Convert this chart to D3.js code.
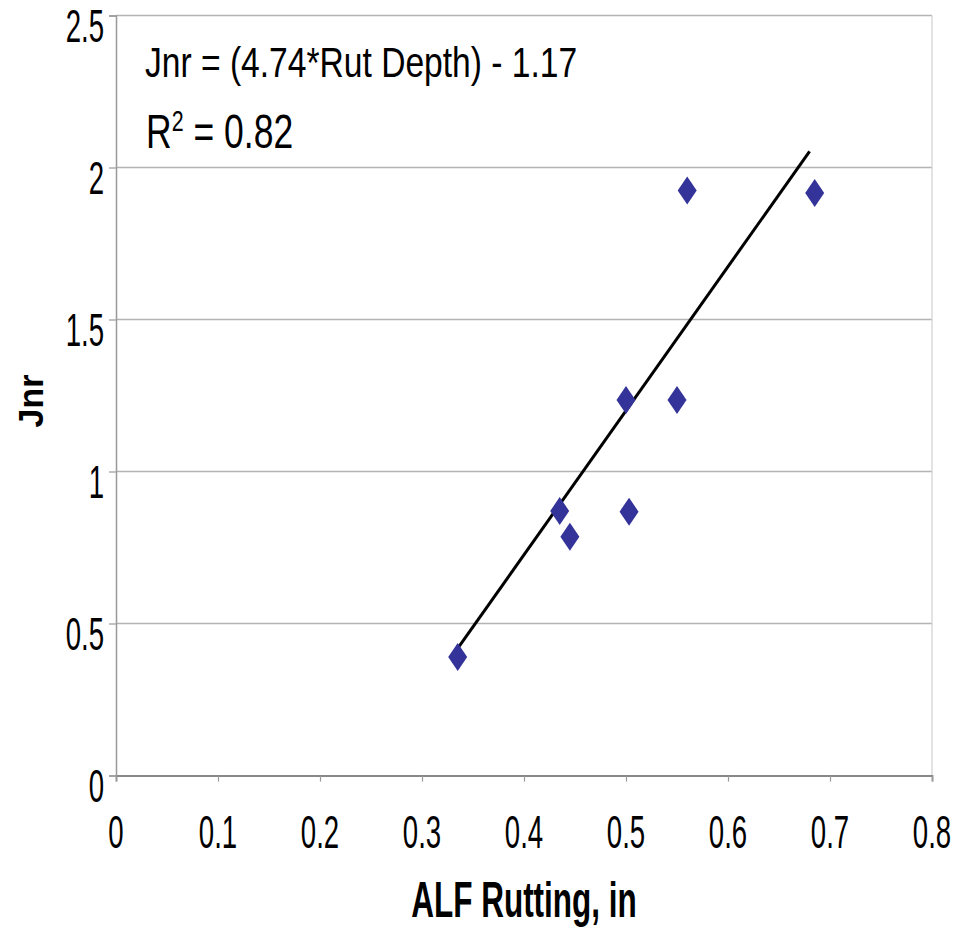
<!DOCTYPE html>
<html>
<head>
<meta charset="utf-8">
<script src="https://cdn.jsdelivr.net/npm/d3@7"></script>
<style>
  html, body { margin: 0; padding: 0; background: #fff; }
  text { font-family: 'Liberation Sans', Arial, sans-serif; fill: #000; }
</style>
</head>
<body>
<svg id="chart" width="965" height="929"></svg>
<script>
// ALF rutting (in) vs Jnr
const rutDepth = [0.335, 0.435, 0.445, 0.500, 0.503, 0.550, 0.560, 0.685]
const jnr = [0.39, 0.87, 0.785, 1.235, 0.868, 1.235, 1.924, 1.916]

const xTicks = [0, 0.1, 0.2, 0.3, 0.4, 0.5, 0.6, 0.7, 0.8]
const yTicks = [0, 0.5, 1, 1.5, 2, 2.5]

// trend line: Jnr = 4.74 * rut - 1.17
const slope = 4.74
const intercept = -1.17
const trendRange = [0.335, 0.68]

const svg = d3.select('#chart')

const margin = { top: 15.5, right: 33, bottom: 153.5, left: 116 }
const width = 965 - margin.left - margin.right
const height = 929 - margin.top - margin.bottom

const x = d3.scaleLinear().domain([0, 0.8]).range([0, width])
const y = d3.scaleLinear().domain([0, 2.5]).range([height, 0])

const g = svg.append('g').attr('transform', `translate(${margin.left},${margin.top})`)

// gridlines
g.append('g')
  .selectAll('line')
  .data(yTicks.filter(d => d > 0))
  .join('line')
  .attr('x1', 0)
  .attr('x2', width)
  .attr('y1', d => y(d))
  .attr('y2', d => y(d))
  .attr('stroke', '#b4b4b4')
  .attr('stroke-width', 1.5)

// right border of the plot area
g.append('line')
  .attr('x1', width).attr('x2', width)
  .attr('y1', 0).attr('y2', height)
  .attr('stroke', '#d0d0d0')
  .attr('stroke-width', 1.2)

// axes
const xAxis = g.append('g')
  .attr('transform', `translate(0,${height})`)
  .call(d3.axisBottom(x).tickValues(xTicks).tickSize(6).tickFormat(''))
xAxis.select('.domain').attr('stroke', '#888').attr('stroke-width', 1.8)
xAxis.selectAll('.tick line').attr('stroke', '#999').attr('stroke-width', 1.2)

const yAxis = g.append('g')
  .call(d3.axisLeft(y).tickValues(yTicks).tickSize(7).tickFormat(''))
yAxis.select('.domain').attr('stroke', '#999').attr('stroke-width', 1.5)
yAxis.selectAll('.tick line').attr('stroke', '#999').attr('stroke-width', 1.2)

// condensed tick labels (the source is squeezed horizontally)
g.append('g')
  .selectAll('text')
  .data(xTicks)
  .join('text')
  .attr('transform', d => `translate(${x(d)},${height + 72}) scale(0.6,1)`)
  .attr('text-anchor', 'middle')
  .attr('font-size', 46)
  .text(d => d3.format('')(d))

g.append('g')
  .selectAll('text')
  .data(yTicks)
  .join('text')
  .attr('transform', d => `translate(-12,${y(d) + 26}) scale(0.6,1)`)
  .attr('text-anchor', 'end')
  .attr('font-size', 46)
  .text(d => d3.format('')(d))

// axis titles
svg.append('text')
  .attr('transform', `translate(${margin.left + width / 2},917) scale(0.63,1)`)
  .attr('text-anchor', 'middle')
  .attr('font-size', 50)
  .attr('font-weight', 'bold')
  .text('ALF Rutting, in')

svg.append('text')
  .attr('transform', 'translate(43,401) rotate(-90) scale(0.97,1)')
  .attr('text-anchor', 'middle')
  .attr('font-size', 35)
  .attr('font-weight', 'bold')
  .text('Jnr')

// trend line
g.append('line')
  .attr('x1', x(trendRange[0]))
  .attr('y1', y(slope * trendRange[0] + intercept))
  .attr('x2', x(trendRange[1]))
  .attr('y2', y(slope * trendRange[1] + intercept))
  .attr('stroke', '#000')
  .attr('stroke-width', 3)

// diamond markers, taller than wide like in the source
const diamond = 'M0,-14L9.5,0L0,14L-9.5,0Z'
g.append('g')
  .selectAll('path')
  .data(rutDepth.map((r, i) => [r, jnr[i]]))
  .join('path')
  .attr('d', diamond)
  .attr('transform', d => `translate(${x(d[0])},${y(d[1])})`)
  .attr('fill', '#333399')

// equation annotation
const eq1 = svg.append('text')
  .attr('transform', 'translate(145,77) scale(0.8,1)')
  .attr('font-size', 42)
  .text('Jnr = (4.74*Rut Depth) - 1.17')

const eq2 = svg.append('text')
  .attr('transform', 'translate(146,148) scale(0.74,1)')
  .attr('font-size', 48)
eq2.append('tspan').text('R')
eq2.append('tspan').attr('dy', -17).attr('font-size', 29).text('2')
eq2.append('tspan').attr('dy', 17).text(' = 0.82')
</script>
</body>
</html>
